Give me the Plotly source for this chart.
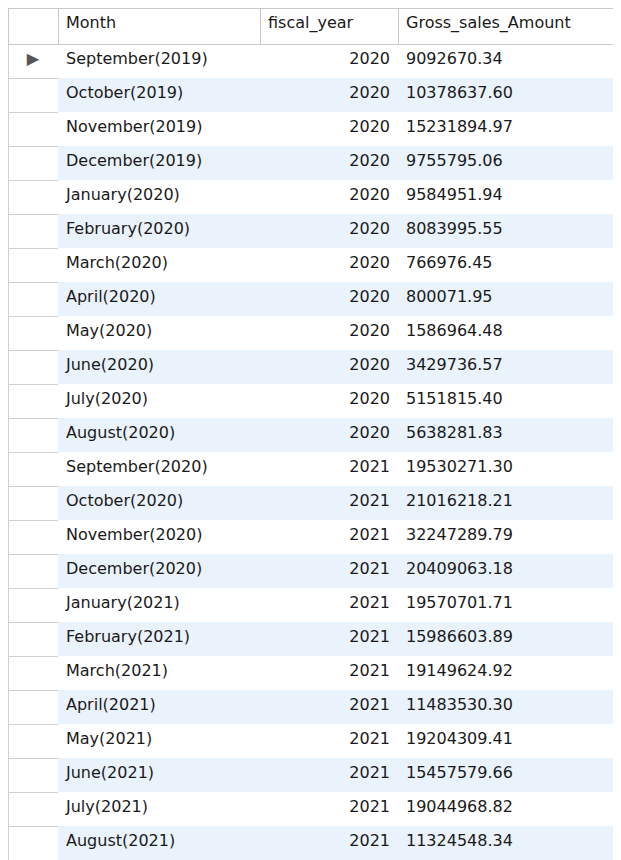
import plotly.graph_objects as go

months = ["September(2019)", "October(2019)", "November(2019)", "December(2019)",
          "January(2020)", "February(2020)", "March(2020)", "April(2020)",
          "May(2020)", "June(2020)", "July(2020)", "August(2020)",
          "September(2020)", "October(2020)", "November(2020)", "December(2020)",
          "January(2021)", "February(2021)", "March(2021)", "April(2021)",
          "May(2021)", "June(2021)", "July(2021)", "August(2021)"]
fiscal_year = [2020] * 12 + [2021] * 12
gross_sales = ["9092670.34", "10378637.60", "15231894.97", "9755795.06",
               "9584951.94", "8083995.55", "766976.45", "800071.95",
               "1586964.48", "3429736.57", "5151815.40", "5638281.83",
               "19530271.30", "21016218.21", "32247289.79", "20409063.18",
               "19570701.71", "15986603.89", "19149624.92", "11483530.30",
               "19204309.41", "15457579.66", "19044968.82", "11324548.34"]

n = len(months)
gutter = ["▶"] + [""] * (n - 1)
row_fill = ["white" if i % 2 == 0 else "#eaf2fc" for i in range(n)]

fig = go.Figure(go.Table(
    columnwidth=[50, 202, 138, 231],
    header=dict(
        values=["", "Month", "fiscal_year", "Gross_sales_Amount"],
        fill_color="white",
        line_color="#c8c8c8",
        align="left",
        height=36,
        font=dict(family="DejaVu Sans", size=16, color="#1a1a1a"),
    ),
    cells=dict(
        values=[gutter, months, fiscal_year, gross_sales],
        fill_color=[["white"] * n, row_fill, row_fill, row_fill],
        line_color=[["#d0d0d0"] * n, row_fill, row_fill, row_fill],
        align=["center", "left", "right", "left"],
        height=34,
        font=dict(family="DejaVu Sans", size=16,
                  color=["#555555", "#1a1a1a", "#1a1a1a", "#1a1a1a"]),
    ),
    domain=dict(x=[0, 1], y=[0, 1]),
))
fig.update_layout(width=621, height=860, margin=dict(l=0, r=0, t=0, b=0),
                  paper_bgcolor="white")
fig.write_html("out.html")
